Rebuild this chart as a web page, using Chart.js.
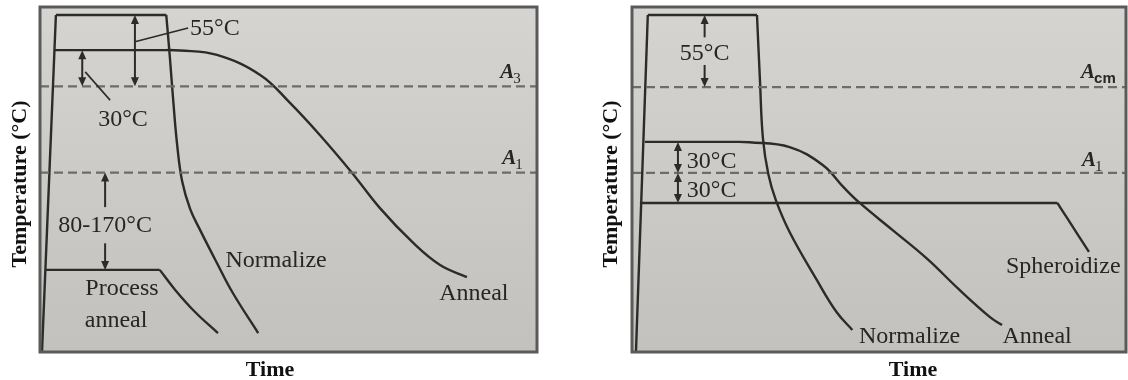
<!DOCTYPE html>
<html>
<head>
<meta charset="utf-8">
<script src="https://cdn.jsdelivr.net/npm/chart.js@4.4.1/dist/chart.umd.min.js"></script>
<style>
  html, body { margin: 0; padding: 0; background: #ffffff; width: 1128px; height: 380px; overflow: hidden; }
  canvas { position: absolute; top: 0; }
  #hypo { left: 0; }
  #hyper { left: 580px; }
</style>
</head>
<body>
<canvas id="hypo" width="565" height="380"></canvas>
<canvas id="hyper" width="548" height="380"></canvas>
<script>
// Schematic units: time 0..100 (x), temperature 0..100 (y).

// ---- Left diagram: hypoeutectoid steel ----
const critA3 = 77;
const critA1Left = 52;
const heatUpLeft = [[0.4, 0], [3.2, 97.7]];
const normalizeHoldLeft = [[3.2, 97.7], [25.4, 97.7]];
const normalizeCoolLeft = [[25.4, 97.7], [26.1, 86], [26.8, 73], [27.6, 60], [28.6, 49.5],
  [30.2, 41.5], [32.2, 35.4], [35.6, 25.8], [38.8, 17.1], [43.9, 5.5]];
const annealLeft = [[2.9, 87.5], [24.0, 87.5], [28.2, 87.4], [35.6, 86.1], [44.3, 80.3], [50.3, 72.2],
  [56.3, 62.9], [62.8, 51.9], [68.4, 41.7], [75.1, 31.6], [80.5, 25.2], [85.9, 21.7]];
const processHold = [[1.1, 23.8], [24.1, 23.8]];
const processCool = [[24.1, 23.8], [27.2, 18.0], [31.2, 11.6], [35.8, 5.5]];

// ---- Right diagram: hypereutectoid steel ----
const critAcm = 76.8;
const critA1Right = 51.9;
const heatUpRight = [[0.8, 0], [3.2, 97.7]];
const normalizeHoldRight = [[3.2, 97.7], [25.3, 97.7]];
const normalizeCoolRight = [[25.3, 97.7], [25.9, 78.8], [26.5, 62], [27.6, 51.5], [29.1, 44.1],
  [31.9, 34.8], [37.4, 20.9], [41.4, 11.6], [44.6, 6.4]];
const annealRight = [[2.6, 60.9], [20.0, 60.9], [23.8, 60.8], [31.9, 59.4], [38.6, 54.2], [43.0, 47.5],
  [46.1, 43.2], [52.7, 35.4], [59.6, 27.2], [66.3, 18.0], [72.4, 10.2], [74.9, 7.8]];
const spheroidizeHold = [[1.6, 43.2], [86.1, 43.2]];
const spheroidizeCool = [[86.1, 43.2], [88.1, 38.8], [92.5, 29.0]];

const INK = '#2b2b2b';
const DASH = '#6c6c6c';

function path(points, curved) {
  return {
    data: points.map(([x, y]) => ({ x, y })),
    showLine: true,
    borderColor: INK,
    borderWidth: 2.4,
    pointRadius: 0,
    fill: false,
    tension: curved ? 0.4 : 0
  };
}

function critLine(level) {
  return {
    data: [{ x: 0, y: level }, { x: 100, y: level }],
    showLine: true,
    borderColor: DASH,
    borderWidth: 2.2,
    borderDash: [9, 5],
    pointRadius: 0,
    fill: false
  };
}

// Draws the panel background, frame, arrows, labels and axis titles.
const diagramPlugin = {
  id: 'diagram',
  beforeDatasetsDraw(chart) {
    const { ctx, chartArea: a } = chart;
    const g = ctx.createLinearGradient(0, a.top, 0, a.bottom);
    g.addColorStop(0, '#d6d4d1');
    g.addColorStop(1, '#c3c1be');
    ctx.save();
    ctx.fillStyle = g;
    ctx.fillRect(a.left, a.top, a.right - a.left, a.bottom - a.top);
    ctx.restore();
  },
  afterDatasetsDraw(chart, args, opts) {
    const { ctx, chartArea: a } = chart;
    const xs = chart.scales.x, ys = chart.scales.y;
    const px = v => xs.getPixelForValue(v);
    const py = v => ys.getPixelForValue(v);

    ctx.save();
    // frame
    ctx.strokeStyle = '#5a5a5a';
    ctx.lineWidth = 3;
    ctx.strokeRect(a.left, a.top, a.right - a.left, a.bottom - a.top);

    // leader lines
    ctx.strokeStyle = INK;
    ctx.lineWidth = 1.6;
    (opts.leaders || []).forEach(l => {
      ctx.beginPath();
      ctx.moveTo(px(l[0]), py(l[1]));
      ctx.lineTo(px(l[2]), py(l[3]));
      ctx.stroke();
    });

    // arrows
    const head = (x, y, dir) => {
      ctx.beginPath();
      ctx.moveTo(x, y);
      ctx.lineTo(x - 4, y + dir * 9);
      ctx.lineTo(x + 4, y + dir * 9);
      ctx.closePath();
      ctx.fill();
    };
    ctx.fillStyle = INK;
    ctx.lineWidth = 2;
    (opts.arrows || []).forEach(ar => {
      const x = px(ar.x), y1 = py(ar.from), y2 = py(ar.to);
      ctx.beginPath();
      ctx.moveTo(x, y1 + (ar.headFrom ? 6 : 0));
      ctx.lineTo(x, y2 - (ar.headTo ? 6 : 0));
      ctx.stroke();
      if (ar.headFrom) head(x, y1, 1);
      if (ar.headTo) head(x, y2, -1);
    });

    // text labels
    ctx.fillStyle = '#262626';
    ctx.textBaseline = 'alphabetic';
    ctx.font = '24px "Liberation Serif"';
    (opts.labels || []).forEach(l => {
      ctx.textAlign = l.align || 'center';
      ctx.fillText(l.text, px(l.x), py(l.y));
    });

    // critical temperature names with subscripts
    (opts.crit || []).forEach(c => {
      const x = px(c.x), y = py(c.y);
      ctx.textAlign = 'left';
      ctx.font = 'italic bold 21px "Liberation Serif"';
      ctx.fillText('A', x, y);
      const w = ctx.measureText('A').width;
      ctx.font = c.subFont || '15px "Liberation Serif"';
      ctx.fillText(c.sub, x + w - 1, y + 5);
    });

    // axis titles
    ctx.fillStyle = '#111111';
    ctx.font = 'bold 22px "Liberation Serif"';
    ctx.textAlign = 'center';
    ctx.fillText('Time', opts.xTitle.x, opts.xTitle.y);
    ctx.translate(opts.yTitle.x, opts.yTitle.y);
    ctx.rotate(-Math.PI / 2);
    ctx.textBaseline = 'middle';
    ctx.fillText('Temperature (°C)', 0, 0);
    ctx.restore();
  }
};

function buildChart(id, datasets, padding, diagram) {
  return new Chart(document.getElementById(id), {
    type: 'scatter',
    data: { datasets },
    plugins: [diagramPlugin],
    options: {
      responsive: false,
      devicePixelRatio: 1,
      animation: false,
      layout: { padding },
      scales: {
        x: { type: 'linear', min: 0, max: 100, display: false },
        y: { type: 'linear', min: 0, max: 100, display: false }
      },
      plugins: {
        legend: { display: false },
        tooltip: { enabled: false },
        diagram
      }
    }
  });
}

buildChart('hypo', [
  critLine(critA3), critLine(critA1Left),
  path(heatUpLeft, false), path(normalizeHoldLeft, false), path(normalizeCoolLeft, true),
  path(annealLeft, true), path(processHold, false), path(processCool, true)
], { left: 40, top: 7, right: 28, bottom: 28 }, {
  leaders: [[19.1, 89.9, 29.8, 93.9], [9.1, 81.2, 14.1, 73.0]],
  arrows: [
    { x: 19.1, from: 97.7, to: critA3, headFrom: true, headTo: true },
    { x: 8.5, from: 87.5, to: critA3, headFrom: true, headTo: true },
    { x: 13.1, from: critA1Left, to: 42, headFrom: true },
    { x: 13.1, from: 31.5, to: 23.8, headTo: true }
  ],
  labels: [
    { text: '55°C', x: 30.2, y: 91.9, align: 'left' },
    { text: '30°C', x: 11.7, y: 65.5, align: 'left' },
    { text: '80-170°C', x: 13.1, y: 34.8 },
    { text: 'Process', x: 16.5, y: 16.5 },
    { text: 'anneal', x: 15.3, y: 7.2 },
    { text: 'Normalize', x: 47.5, y: 24.6 },
    { text: 'Anneal', x: 87.3, y: 15.1 }
  ],
  crit: [
    { sub: '3', x: 92.6, y: 79.4 },
    { sub: '1', x: 93.0, y: 54.5 }
  ],
  xTitle: { x: 270, y: 376 },
  yTitle: { x: 20, y: 184 }
});

buildChart('hyper', [
  critLine(critAcm), critLine(critA1Right),
  path(heatUpRight, false), path(normalizeHoldRight, false), path(normalizeCoolRight, true),
  path(annealRight, true), path(spheroidizeHold, false), path(spheroidizeCool, true)
], { left: 52, top: 7, right: 2, bottom: 28 }, {
  leaders: [],
  arrows: [
    { x: 14.7, from: 97.7, to: 91.2, headFrom: true },
    { x: 14.7, from: 83.2, to: critAcm, headTo: true },
    { x: 9.3, from: 60.9, to: critA1Right, headFrom: true, headTo: true },
    { x: 9.3, from: critA1Right, to: 43.2, headFrom: true, headTo: true }
  ],
  labels: [
    { text: '55°C', x: 14.7, y: 84.6 },
    { text: '30°C', x: 11.1, y: 53.3, align: 'left' },
    { text: '30°C', x: 11.1, y: 44.9, align: 'left' },
    { text: 'Normalize', x: 56.2, y: 2.6 },
    { text: 'Anneal', x: 82.0, y: 2.6 },
    { text: 'Spheroidize', x: 87.3, y: 22.9 }
  ],
  crit: [
    { sub: 'cm', x: 90.9, y: 79.4, subFont: 'bold 15px "Liberation Sans"' },
    { sub: '1', x: 91.1, y: 53.9 }
  ],
  xTitle: { x: 333, y: 376 },
  yTitle: { x: 31, y: 184 }
});
</script>
</body>
</html>
